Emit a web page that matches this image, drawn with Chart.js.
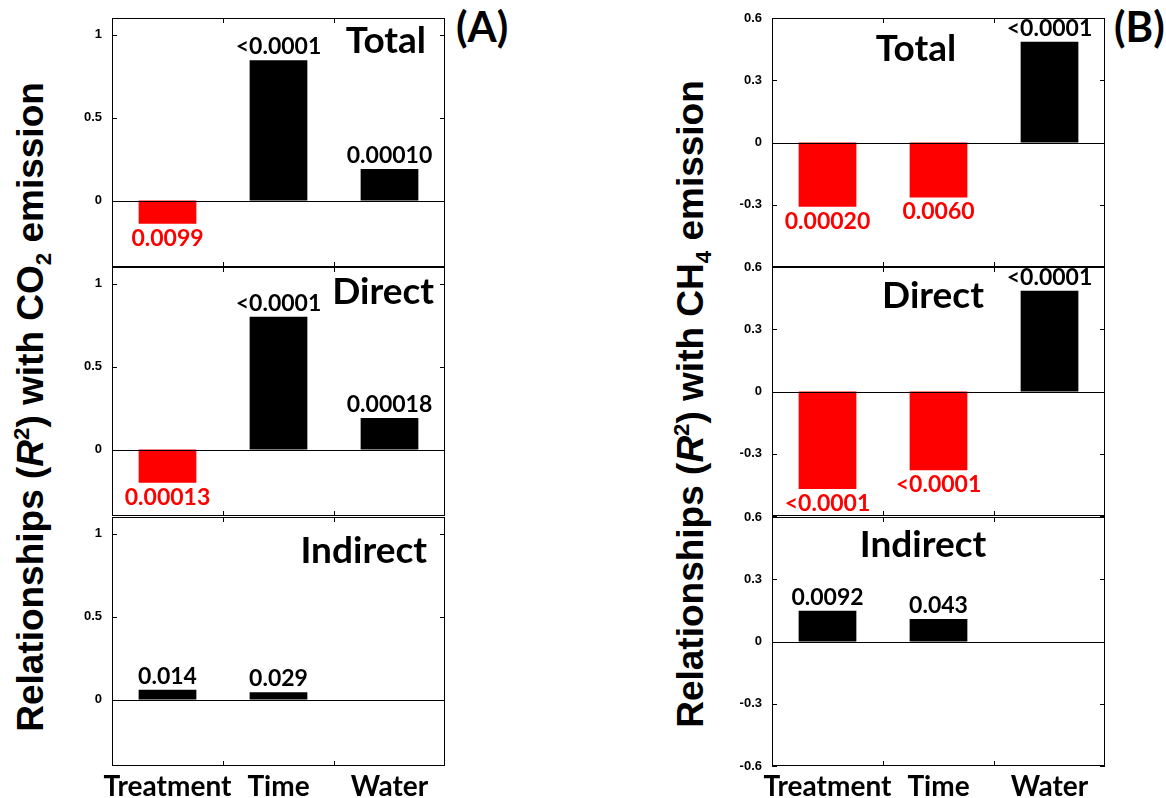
<!DOCTYPE html>
<html>
<head>
<meta charset="utf-8">
<script src="https://cdn.jsdelivr.net/npm/chart.js@4.4.1/dist/chart.umd.min.js"></script>
<style>
html, body { margin: 0; padding: 0; background: #fff; width: 1166px; height: 798px; overflow: hidden; }
body { position: relative; }
canvas { position: absolute; }
.ytitle {
    position: absolute; white-space: nowrap; color: #000;
    font: bold 37px "Liberation Sans", Arial, sans-serif; line-height: 1;
    transform: translate(-50%, -50%) rotate(-90deg);
}
.ytitle sup, .ytitle sub { font-size: 60%; line-height: 0; }
.tag { position: absolute; font: bold 42px Lato, sans-serif; line-height: 1; color: #000; }
</style>
</head>
<body>
<div class="ytitle" style="left:30px; top:407px;">Relationships (<i>R</i><sup>2</sup>) with CO<sub>2</sub> emission</div>
<div class="ytitle" style="left:690px; top:404px;">Relationships (<i>R</i><sup>2</sup>) with CH<sub>4</sub> emission</div>
<div class="tag" style="left:456px; top:5px;">(A)</div>
<div class="tag" style="left:1114px; top:5px;">(B)</div>

<script>
// categories + tick labels
const categories = ['Treatment', 'Time', 'Water'];
const co2Ticks = [0, 0.5, 1];
const ch4Ticks = [-0.6, -0.3, 0, 0.3, 0.6];

// (A) CO2 - R2 values and p labels
const co2Total = [-0.14, 0.845, 0.19];
const co2TotalP = ['0.0099', '<0.0001', '0.00010'];
const co2Direct = [-0.20, 0.80, 0.19];
const co2DirectP = ['0.00013', '<0.0001', '0.00018'];
const co2Indirect = [0.06, 0.045, 0];
const co2IndirectP = ['0.014', '0.029', ''];

// (B) CH4
const ch4Total = [-0.31, -0.265, 0.485];
const ch4TotalP = ['0.00020', '0.0060', '<0.0001'];
const ch4Direct = [-0.47, -0.38, 0.485];
const ch4DirectP = ['<0.0001', '<0.0001', '<0.0001'];
const ch4Indirect = [0.148, 0.108, 0];
const ch4IndirectP = ['0.0092', '0.043', ''];

const RED = '#ff0000';
const BLACK = '#000000';

// layout of the 2x3 grid (plot areas)
const colLeft = [112, 772];
const rowTop = [18, 267, 517];
const plotW = 333, plotH = 249;
const yAxisW = 62, padR = 15, padT = 20;

// frame, inward ticks, zero line, p labels and panel title
const panelPlugin = {
    id: 'panel',
    afterDatasetsDraw(chart, args, opts) {
        const ctx = chart.ctx;
        const a = chart.chartArea;
        const x = chart.scales.x, y = chart.scales.y;
        ctx.save();
        ctx.strokeStyle = '#000';
        ctx.lineWidth = 1;

        // zero line
        const y0 = Math.round(y.getPixelForValue(0)) + 0.5;
        ctx.beginPath();
        ctx.moveTo(a.left, y0);
        ctx.lineTo(a.right, y0);
        ctx.stroke();

        // box
        ctx.strokeRect(a.left + 0.5, a.top + 0.5, a.width - 1, a.height - 1);

        // x ticks between categories, top and bottom
        ctx.beginPath();
        for (let i = 1; i < categories.length; i++) {
            const bx = Math.round((x.getPixelForValue(i - 1) + x.getPixelForValue(i)) / 2) + 0.5;
            ctx.moveTo(bx, a.top);
            ctx.lineTo(bx, a.top + 5);
            ctx.moveTo(bx, a.bottom);
            ctx.lineTo(bx, a.bottom - 5);
        }
        // y ticks left and right
        opts.ticks.forEach(v => {
            const py = Math.round(y.getPixelForValue(v)) + 0.5;
            ctx.moveTo(a.left, py);
            ctx.lineTo(a.left + 5, py);
            ctx.moveTo(a.right, py);
            ctx.lineTo(a.right - 5, py);
        });
        ctx.stroke();

        // p-value labels
        const meta = chart.getDatasetMeta(0);
        const vals = chart.data.datasets[0].data;
        ctx.font = 'bold 23px Lato, sans-serif';
        ctx.textAlign = 'center';
        meta.data.forEach((bar, i) => {
            const txt = opts.labels[i];
            if (!txt) return;
            if (vals[i] < 0) {
                ctx.fillStyle = RED;
                ctx.textBaseline = 'top';
                ctx.fillText(txt, bar.x, bar.y + 3);
            } else {
                ctx.fillStyle = BLACK;
                ctx.textBaseline = 'alphabetic';
                ctx.fillText(txt, bar.x, bar.y - 6);
            }
        });

        // panel title
        ctx.fillStyle = BLACK;
        ctx.font = 'bold 37px Lato, sans-serif';
        ctx.textBaseline = 'alphabetic';
        ctx.textAlign = opts.align;
        ctx.fillText(opts.title, a.left + opts.tx, a.top + opts.ty);
        ctx.restore();
    }
};

const panels = [
    { col: 0, row: 0, data: co2Total, p: co2TotalP, title: 'Total', align: 'right', tx: 314, ty: 35 },
    { col: 0, row: 1, data: co2Direct, p: co2DirectP, title: 'Direct', align: 'right', tx: 322, ty: 37 },
    { col: 0, row: 2, data: co2Indirect, p: co2IndirectP, title: 'Indirect', align: 'right', tx: 315, ty: 46 },
    { col: 1, row: 0, data: ch4Total, p: ch4TotalP, title: 'Total', align: 'center', tx: 144, ty: 43 },
    { col: 1, row: 1, data: ch4Direct, p: ch4DirectP, title: 'Direct', align: 'center', tx: 161, ty: 41 },
    { col: 1, row: 2, data: ch4Indirect, p: ch4IndirectP, title: 'Indirect', align: 'center', tx: 151, ty: 40 }
];

panels.forEach(pn => {
    const isBottom = pn.row === 2;
    const ticks = pn.col === 0 ? co2Ticks : ch4Ticks;
    const yMin = pn.col === 0 ? -0.4 : -0.6;
    const yMax = pn.col === 0 ? 1.1 : 0.6;
    const xAxisH = isBottom ? 40 : 0;
    const padB = isBottom ? 0 : 20;

    const canvas = document.createElement('canvas');
    canvas.width = yAxisW + plotW + padR;
    canvas.height = padT + plotH + xAxisH + padB;
    canvas.style.left = (colLeft[pn.col] - yAxisW) + 'px';
    canvas.style.top = (rowTop[pn.row] - padT) + 'px';
    document.body.appendChild(canvas);

    new Chart(canvas, {
        type: 'bar',
        data: {
            labels: categories,
            datasets: [{
                data: pn.data,
                backgroundColor: pn.data.map(v => v < 0 ? RED : BLACK),
                borderWidth: 0,
                categoryPercentage: 1,
                barPercentage: 0.52
            }]
        },
        options: {
            responsive: false,
            animation: false,
            layout: { padding: { top: padT, bottom: padB, right: padR, left: 0 } },
            plugins: {
                legend: { display: false },
                tooltip: { enabled: false },
                panel: {
                    ticks: ticks,
                    labels: pn.p,
                    title: pn.title,
                    align: pn.align,
                    tx: pn.tx,
                    ty: pn.ty
                }
            },
            scales: {
                x: {
                    grid: { display: false, drawTicks: false },
                    border: { display: false },
                    ticks: {
                        display: isBottom,
                        autoSkip: false,
                        maxRotation: 0,
                        color: '#000',
                        padding: 4,
                        font: { family: 'Lato', weight: 'bold', size: 28 }
                    },
                    afterFit: s => { s.height = xAxisH; }
                },
                y: {
                    min: yMin,
                    max: yMax,
                    grid: { display: false, drawTicks: false },
                    border: { display: false },
                    afterBuildTicks: s => { s.ticks = ticks.map(v => ({ value: v })); },
                    afterFit: s => { s.width = yAxisW; },
                    ticks: {
                        color: '#000',
                        padding: 10,
                        font: { family: '"Liberation Sans", Arial', weight: 'bold', size: 13 },
                        callback: v => (pn.col === 1 && !isBottom && v === -0.6) ? '' : String(v)
                    }
                }
            }
        },
        plugins: [panelPlugin]
    });
});
</script>
</body>
</html>
